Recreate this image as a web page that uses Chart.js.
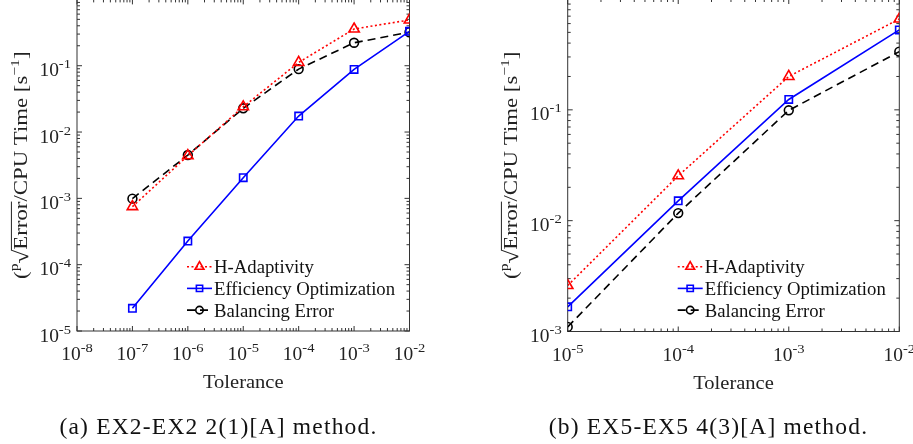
<!DOCTYPE html>
<html>
<head>
<meta charset="utf-8">
<script src="https://cdn.jsdelivr.net/npm/chart.js"></script>
<style>
  html, body { margin: 0; padding: 0; background: #fff; }
  body { position: relative; width: 913px; height: 444px; overflow: hidden; }
  canvas { position: absolute; top: -30px; }
  #chartA { left: 0; }
  #chartB { left: 456px; }
  .cap { position: absolute; top: 414px; font-family: "Liberation Serif", serif; font-size: 23.5px;
         line-height: 24px; white-space: nowrap; text-align: center; letter-spacing: 1.2px; color: #111; }
</style>
</head>
<body>
<canvas id="chartA" width="456" height="474"></canvas>
<canvas id="chartB" width="457" height="474"></canvas>
<div class="cap" style="left:0;width:437px">(a) EX2-EX2 2(1)[A] method.</div>
<div class="cap" style="left:480px;width:457px">(b) EX5-EX5 4(3)[A] method.</div>
<script>
// ---- data ----
const seriesNames = ['H-Adaptivity', 'Efficiency Optimization', 'Balancing Error'];

// (a) EX2-EX2 2(1)[A]
const tolA = [1e-7, 1e-6, 1e-5, 1e-4, 1e-3, 1e-2];
const hAdaptA = [7.5e-4, 4.4e-3, 0.024, 0.112, 0.358, 0.49];
const effOptA = [2.2e-5, 2.27e-4, 2.05e-3, 0.0174, 0.088, 0.33];
const balErrA = [9.9e-4, 4.5e-3, 0.0228, 0.089, 0.222, 0.32];
const xExpA = [-8, -7, -6, -5, -4, -3, -2];
const yExpA = [-5, -4, -3, -2, -1];

// (b) EX5-EX5 4(3)[A]
const tolB = [1e-5, 1e-4, 1e-3, 1e-2];
const hAdaptB = [2.6e-3, 0.0254, 0.2, 0.66];
const effOptB = [1.67e-3, 0.0151, 0.124, 0.526];
const balErrB = [1.1e-3, 0.0117, 0.099, 0.335];
const xExpB = [-5, -4, -3, -2];
const yExpB = [-3, -2, -1];

const xTitle = 'Tolerance';

const SERIF = '"Liberation Serif", serif';
const STRETCH = 1.08;
const axisColor = '#333';

// draw text stretched a bit horizontally (CM is wider than Times)
function txt(ctx, s, x, y, size, align, st) {
  st = st || STRETCH;
  ctx.font = size + 'px ' + SERIF;
  const w = ctx.measureText(s).width * st;
  let x0 = x;
  if (align === 'center') x0 = x - w / 2;
  else if (align === 'right') x0 = x - w;
  ctx.save();
  ctx.translate(x0, y);
  ctx.scale(st, 1);
  ctx.textAlign = 'left';
  ctx.textBaseline = 'alphabetic';
  ctx.fillText(s, 0, 0);
  ctx.restore();
  return w;
}
function width(ctx, s, size, st) {
  ctx.font = size + 'px ' + SERIF;
  return ctx.measureText(s).width * (st || STRETCH);
}

// 10^e label, y is baseline of "10"
function powLabel(ctx, e, x, y, align) {
  const sup = '-' + Math.abs(e);
  const w1 = width(ctx, '10', 18), w2 = width(ctx, sup, 13.5);
  const tot = w1 + w2;
  const x0 = align === 'center' ? x - tot / 2 : x - tot;
  txt(ctx, '10', x0, y, 18, 'left');
  txt(ctx, sup, x0 + w1, y - 8, 13.5, 'left');
}

const frame = {
  id: 'frame',
  beforeDatasetsDraw(chart, args, o) {
    const { ctx, chartArea: a, scales: { x, y } } = chart;
    ctx.save();
    ctx.strokeStyle = axisColor;
    ctx.lineWidth = 1;
    ctx.strokeRect(a.left, a.top, a.right - a.left, a.bottom - a.top);
    ctx.beginPath();
    const lx0 = Math.round(Math.log10(x.min)), lx1 = Math.round(Math.log10(x.max));
    for (let e = lx0; e <= lx1; e++) {
      for (let k = 1; k <= 9; k++) {
        const v = k * Math.pow(10, e);
        if (v > x.max * 1.0001) break;
        const px = x.getPixelForValue(v), len = k === 1 ? 5 : 3;
        ctx.moveTo(px, a.bottom); ctx.lineTo(px, a.bottom - len);
        ctx.moveTo(px, a.top); ctx.lineTo(px, a.top + len);
      }
    }
    const ly0 = Math.round(Math.log10(y.min)), ly1 = Math.round(Math.log10(y.max));
    for (let e = ly0; e <= ly1; e++) {
      for (let k = 1; k <= 9; k++) {
        const v = k * Math.pow(10, e);
        if (v > y.max * 1.0001) break;
        const py = y.getPixelForValue(v), len = k === 1 ? 5 : 3;
        ctx.moveTo(a.left, py); ctx.lineTo(a.left + len, py);
        ctx.moveTo(a.right, py); ctx.lineTo(a.right - len, py);
      }
    }
    ctx.stroke();

    // tick labels
    ctx.fillStyle = '#222';
    o.xExp.forEach(e => powLabel(ctx, e, x.getPixelForValue(Math.pow(10, e)), a.bottom + 29, 'center'));
    o.yExp.forEach(e => powLabel(ctx, e, a.left - 6, y.getPixelForValue(Math.pow(10, e)) + 10.5, 'right'));

    // x title
    txt(ctx, xTitle, (a.left + a.right) / 2, a.bottom + 57, 19, 'center');

    // y title: (ᵖ√Error/CPU Time [s⁻¹]  drawn rotated
    ctx.save();
    ctx.translate(o.yTitleX, (a.top + a.bottom) / 2);
    ctx.rotate(-Math.PI / 2);
    const fs = 19, ss = 13, st = 1.2;
    const parts = [
      ['(', fs, 0], ['p', ss, -9], ['\u221A', fs + 2, 1], ['Error', fs, 0],
      ['/CPU Time [s', fs, 0], ['\u22121', ss, -8], [']', fs, 0]
    ];
    let tot = 0;
    parts.forEach(p => { tot += width(ctx, p[0], p[1], st); });
    let cx = -tot / 2, errStart = 0, errEnd = 0;
    parts.forEach(p => {
      const w = width(ctx, p[0], p[1], st);
      if (p[0] === 'Error') { errStart = cx; errEnd = cx + w; }
      txt(ctx, p[0], cx, p[2], p[1], 'left', st);
      cx += w;
    });
    ctx.strokeStyle = '#222';
    ctx.lineWidth = 1;
    ctx.beginPath();
    ctx.moveTo(errStart - 1, -fs * 0.82);
    ctx.lineTo(errEnd, -fs * 0.82);
    ctx.stroke();
    ctx.restore();
    ctx.restore();
  },
  afterDraw(chart, args, o) {
    // legend inside the axes
    const { ctx } = chart;
    ctx.save();
    chart.data.datasets.forEach((ds, i) => {
      const yy = o.legY + i * 21.7, x0 = o.legX, x1 = o.legX + 25;
      ctx.strokeStyle = ds.borderColor;
      ctx.lineWidth = ds.borderWidth;
      ctx.setLineDash(ds.borderDash || []);
      ctx.beginPath(); ctx.moveTo(x0, yy); ctx.lineTo(x1, yy); ctx.stroke();
      ctx.setLineDash([]);
      ctx.fillStyle = 'rgba(0,0,0,0)';
      Chart.helpers.drawPoint(ctx, {
        pointStyle: ds.pointStyle, radius: ds.pointRadius * 0.85, rotation: 0,
        borderWidth: ds.pointBorderWidth
      }, (x0 + x1) / 2, yy);
      ctx.fillStyle = '#111';
      txt(ctx, ds.label, x1 + 2, yy + 6.5, 18, 'left', 1.04);
    });
    ctx.restore();
  }
};

function pts(xs, ys) { return xs.map((v, i) => ({ x: v, y: ys[i] })); }

function makeChart(id, tol, h, e, b, xr, yr, pad, extra) {
  const base = { borderWidth: 1.6, pointBorderWidth: 1.6, pointBackgroundColor: 'rgba(0,0,0,0)',
                 fill: false, tension: 0 };
  return new Chart(document.getElementById(id), {
    type: 'line',
    data: {
      datasets: [
        Object.assign({}, base, { label: seriesNames[0], data: pts(tol, h), borderColor: '#ff0000',
          pointBorderColor: '#ff0000', borderDash: [2, 2.5], pointStyle: 'triangle', pointRadius: 6 }),
        Object.assign({}, base, { label: seriesNames[1], data: pts(tol, e), borderColor: '#0000ff',
          pointBorderColor: '#0000ff', pointStyle: 'rect', pointRadius: 5.2 }),
        Object.assign({}, base, { label: seriesNames[2], data: pts(tol, b), borderColor: '#000000',
          pointBorderColor: '#000000', borderDash: [8, 5], pointStyle: 'circle', pointRadius: 4.4 })
      ]
    },
    options: {
      responsive: false,
      animation: false,
      layout: { padding: pad },
      plugins: { legend: { display: false }, tooltip: { enabled: false }, frame: extra },
      scales: {
        x: { type: 'logarithmic', min: xr[0], max: xr[1], display: false },
        y: { type: 'logarithmic', min: yr[0], max: yr[1], display: false }
      }
    },
    plugins: [frame]
  });
}

makeChart('chartA', tolA, hAdaptA, effOptA, balErrA, [1e-8, 1e-2], [1e-5, 1],
  { left: 77, right: 46.5, top: 29.4, bottom: 113 },
  { xExp: xExpA, yExp: yExpA, yTitleX: 27, legX: 187, legY: 296.7 });

makeChart('chartB', tolB, hAdaptB, effOptB, balErrB, [1e-5, 1e-2], [1e-3, 1],
  { left: 111.7, right: 13.7, top: 29, bottom: 112.5 },
  { xExp: xExpB, yExp: yExpB, yTitleX: 61, legX: 221.7, legY: 296.7 });
</script>
</body>
</html>
